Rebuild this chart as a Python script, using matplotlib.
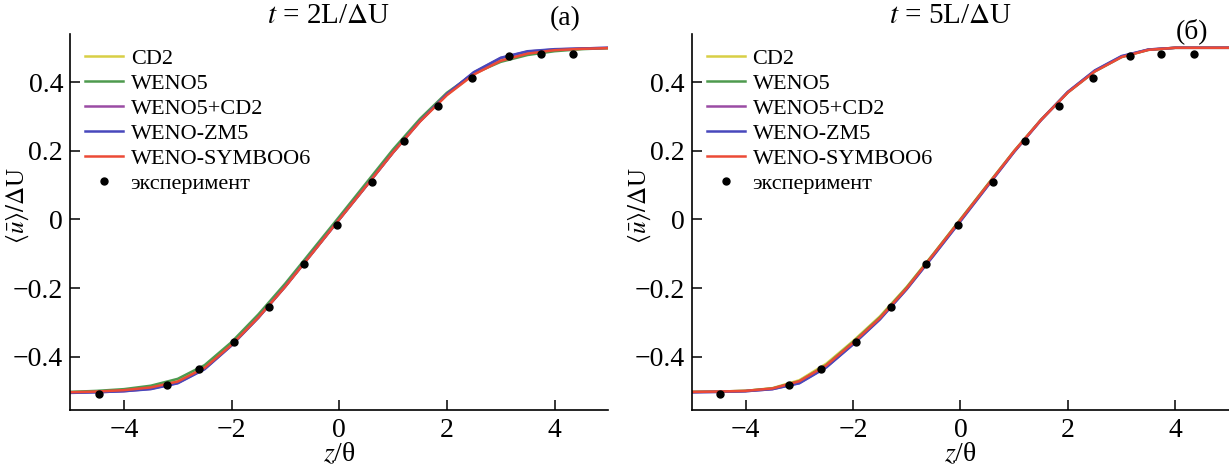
import numpy as np
import matplotlib
matplotlib.use('Agg')
import matplotlib.pyplot as plt

plt.rcParams['font.family'] = ['Liberation Serif', 'DejaVu Serif']
plt.rcParams['mathtext.fontset'] = 'stix'

# profiles
z = [-5, -4.5, -4, -3.5, -3, -2.5, -2, -1.5, -1, -0.5, 0, 0.5, 1, 1.5, 2, 2.5, 3, 3.5, 4, 4.5, 5]

# t = 2L/dU  (a)
a_cd2 = [-0.503, -0.501, -0.497, -0.489, -0.471, -0.431, -0.364, -0.284, -0.194, -0.097, 0.001,
         0.098, 0.196, 0.286, 0.363, 0.423, 0.463, 0.484, 0.493, 0.497, 0.499]
a_weno5 = [-0.502, -0.499, -0.494, -0.484, -0.464, -0.424, -0.357, -0.276, -0.186, -0.089, 0.008,
           0.106, 0.204, 0.293, 0.369, 0.425, 0.459, 0.479, 0.490, 0.496, 0.499]
a_weno5cd2 = [-0.504, -0.503, -0.500, -0.493, -0.476, -0.435, -0.366, -0.285, -0.194, -0.097, 0.000,
              0.097, 0.195, 0.286, 0.365, 0.428, 0.470, 0.489, 0.495, 0.498, 0.500]
a_wenozm5 = [-0.505, -0.503, -0.500, -0.494, -0.477, -0.436, -0.367, -0.286, -0.195, -0.098, 0.000,
             0.097, 0.195, 0.286, 0.365, 0.429, 0.471, 0.490, 0.496, 0.498, 0.500]
a_symboo6 = [-0.503, -0.501, -0.497, -0.489, -0.472, -0.432, -0.365, -0.285, -0.195, -0.098, 0.000,
             0.097, 0.195, 0.285, 0.362, 0.422, 0.462, 0.483, 0.493, 0.497, 0.499]

# t = 5L/dU  (б)
b_cd2 = [-0.502, -0.501, -0.499, -0.491, -0.468, -0.420, -0.354, -0.282, -0.196, -0.099, 0.001,
         0.101, 0.200, 0.291, 0.371, 0.432, 0.474, 0.494, 0.500, 0.500, 0.500]
b_weno5 = [-0.502, -0.501, -0.499, -0.492, -0.471, -0.424, -0.357, -0.285, -0.198, -0.100, 0.000,
           0.100, 0.199, 0.290, 0.370, 0.431, 0.473, 0.494, 0.500, 0.500, 0.500]
b_weno5cd2 = [-0.503, -0.502, -0.500, -0.494, -0.476, -0.430, -0.363, -0.290, -0.202, -0.104, -0.004,
              0.097, 0.197, 0.289, 0.371, 0.433, 0.475, 0.495, 0.500, 0.500, 0.500]
b_wenozm5 = [-0.503, -0.502, -0.500, -0.494, -0.477, -0.431, -0.364, -0.291, -0.203, -0.105, -0.005,
             0.096, 0.197, 0.290, 0.372, 0.434, 0.476, 0.495, 0.500, 0.500, 0.500]
b_symboo6 = [-0.502, -0.501, -0.499, -0.492, -0.471, -0.425, -0.359, -0.287, -0.200, -0.101, -0.001,
             0.099, 0.199, 0.290, 0.370, 0.431, 0.473, 0.494, 0.500, 0.500, 0.500]

# experiment
z_exp = [-4.47, -3.2, -2.6, -1.95, -1.3, -0.65, -0.05, 0.6, 1.2, 1.84, 2.47, 3.16, 3.74, 4.35]
u_exp = [-0.509, -0.483, -0.434, -0.356, -0.255, -0.130, -0.015, 0.110, 0.228, 0.330, 0.413,
         0.475, 0.481, 0.483]

labels = ['CD2', 'WENO5', 'WENO5+CD2', 'WENO-ZM5', 'WENO-SYMBOO6']
colors = ['#d8cf45', '#4e9a4e', '#9a4ca4', '#4848bc', '#ec4a36']
xticks = [-4, -2, 0, 2, 4]
xticklabels = ['\u22124', '\u22122', '0', '2', '4']
yticks = [-0.4, -0.2, 0, 0.2, 0.4]
yticklabels = ['\u22120.4', '\u22120.2', '0', '0.2', '0.4']

fig = plt.figure(figsize=(12.29, 4.73), dpi=100)
ax1 = fig.add_axes([0.057, 0.133, 0.438, 0.795])
ax2 = fig.add_axes([0.563, 0.133, 0.437, 0.795])

panels = [(ax1, [a_cd2, a_weno5, a_weno5cd2, a_wenozm5, a_symboo6]),
          (ax2, [b_cd2, b_weno5, b_weno5cd2, b_wenozm5, b_symboo6])]

for ax, series in panels:
    for u, lab, c in zip(series, labels, colors):
        ax.plot(z, u, color=c, lw=1.8, label=lab)
    ax.plot(z_exp, u_exp, 'o', color='k', ms=5, label='эксперимент', zorder=5)
    ax.set_xlim(-5, 5)
    ax.set_ylim(-0.555, 0.54)
    ax.set_xticks(xticks)
    ax.set_xticklabels(xticklabels)
    ax.set_yticks(yticks)
    ax.set_yticklabels(yticklabels)
    ax.spines['top'].set_visible(False)
    ax.spines['right'].set_visible(False)
    ax.spines['left'].set_linewidth(1.2)
    ax.spines['bottom'].set_linewidth(1.2)
    ax.tick_params(direction='in', length=7, width=1.1, labelsize=20)
    ax.tick_params(axis='x', pad=6)
    ax.tick_params(axis='y', pad=5)
    ax.set_xlabel(r'$z$/θ', fontsize=20)
    ax.xaxis.set_label_coords(0.5, -0.085)
    ax.set_ylabel(r'$\langle\bar{u}\rangle/\Delta$U', fontsize=18)
    ax.yaxis.set_label_coords(-0.072, 0.543)
    ax.legend(loc='upper left', bbox_to_anchor=(0.011, 0.985), frameon=False, fontsize=16,
              handlelength=1.7, handletextpad=0.36, labelspacing=0.2, borderaxespad=0.0)

fig.text(0.267, 0.966, r'$t$ = 2L/$\Delta$U', fontsize=21, ha='center', va='center')
fig.text(0.46, 0.960, '(a)', fontsize=20, ha='center', va='center')
fig.text(0.773, 0.966, r'$t$ = 5L/$\Delta$U', fontsize=21, ha='center', va='center')
fig.text(0.97, 0.935, '(б)', fontsize=20, ha='center', va='center')

fig.savefig('out.png', dpi=100)
